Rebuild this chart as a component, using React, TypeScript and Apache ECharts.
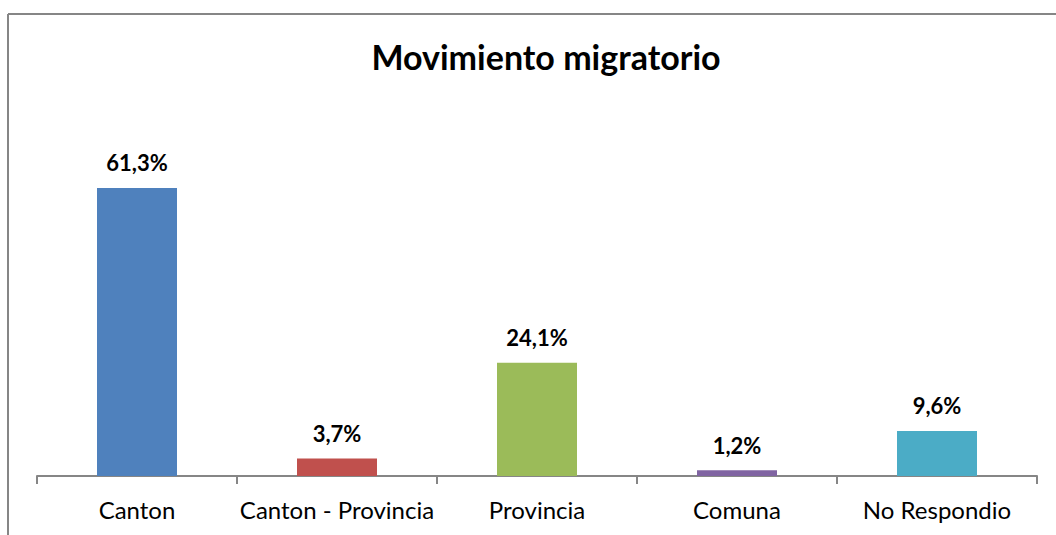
import React, { useEffect, useRef } from "react";
import * as echarts from "echarts";

const categories = ["Canton", "Canton - Provincia", "Provincia", "Comuna", "No Respondio"];
const values = [61.3, 3.7, 24.1, 1.2, 9.6];
const colors = ["#4F81BD", "#C0504D", "#9BBB59", "#8064A2", "#4BACC6"];
const titleText = "Movimiento migratorio";

export default function App() {
  const ref = useRef<HTMLDivElement>(null);
  useEffect(() => {
    document.body.style.margin = "0";
    const chart = echarts.init(ref.current!, null, { renderer: "svg" });
    const font = "Lato, 'Noto Sans', sans-serif";
    chart.setOption({
      animation: false,
      backgroundColor: "#ffffff",
      title: {
        text: titleText,
        left: 541,
        textAlign: "center",
        top: 34,
        textStyle: { fontFamily: font, fontSize: 34, fontWeight: "bold", color: "#000" },
      },
      graphic: [
        { type: "line", shape: { x1: 8, y1: 14, x2: 1056, y2: 14 }, style: { stroke: "#868686", lineWidth: 2 } },
        { type: "line", shape: { x1: 8, y1: 14, x2: 8, y2: 535 }, style: { stroke: "#868686", lineWidth: 2 } },
      ],
      grid: { left: 37, right: 19, top: 147, bottom: 59 },
      xAxis: {
        type: "category",
        data: categories,
        axisLine: { lineStyle: { color: "#868686", width: 2 } },
        axisTick: { show: true, length: 8, lineStyle: { color: "#868686", width: 2 } },
        axisLabel: { interval: 0, margin: 21, fontFamily: font, fontSize: 24, color: "#000" },
      },
      yAxis: {
        type: "value",
        min: 0,
        max: 70,
        show: false,
        splitLine: { show: false },
      },
      series: [
        {
          type: "bar",
          barWidth: 80,
          data: values.map((v, i) => ({ value: v, itemStyle: { color: colors[i] } })),
          label: {
            show: true,
            position: "top",
            distance: 14,
            fontFamily: font,
            fontSize: 22,
            fontWeight: "bold",
            color: "#000",
            formatter: (p: any) => p.value.toFixed(1).replace(".", ",") + "%",
          },
        },
      ],
    });
    return () => chart.dispose();
  }, []);
  return <div ref={ref} style={{ width: 1056, height: 535 }} />;
}
